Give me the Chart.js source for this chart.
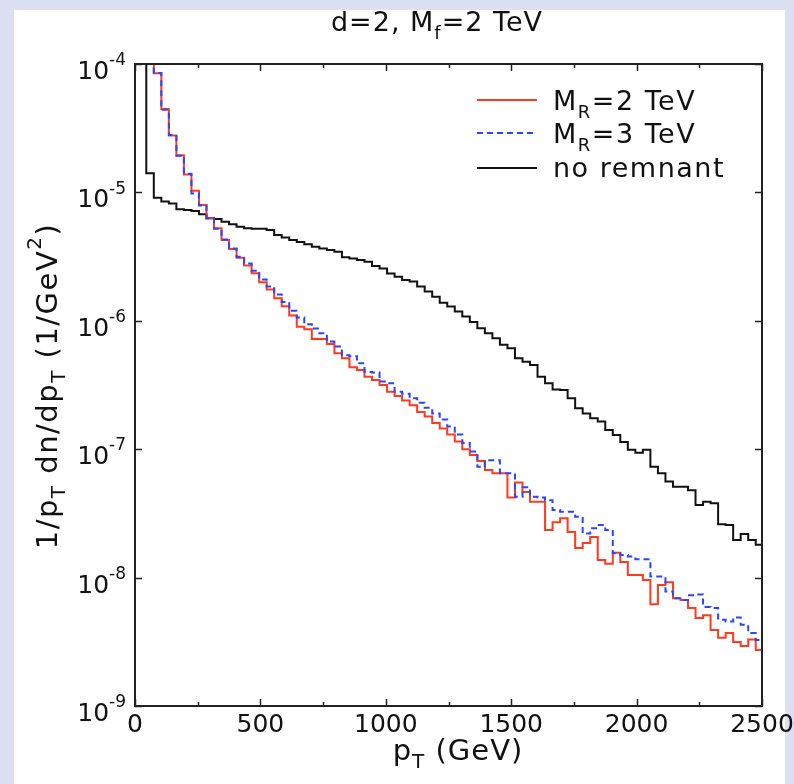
<!DOCTYPE html>
<html>
<head>
<meta charset="utf-8">
<script src="https://cdn.jsdelivr.net/npm/chart.js@4.4.1/dist/chart.umd.min.js"></script>
<style>
  html, body { margin: 0; padding: 0; background: #dde0f3; }
  canvas { display: block; }
</style>
</head>
<body>
<canvas id="grafico" width="794" height="784"></canvas>
<script>
// bordas dos bins (GeV) - 30 GeV por bin
const bordasBins = [
  15, 45, 75, 105, 135, 165, 195, 225, 255, 285, 315, 345, 375, 405, 435, 465,
  495, 525, 555, 585, 615, 645, 675, 705, 735, 765, 795, 825, 855, 885, 915, 945,
  975, 1005, 1035, 1065, 1095, 1125, 1155, 1185, 1215, 1245, 1275, 1305, 1335,
  1365, 1395, 1425, 1455, 1485, 1515, 1545, 1575, 1605, 1635, 1665, 1695, 1725,
  1755, 1785, 1815, 1845, 1875, 1905, 1935, 1965, 1995, 2025, 2055, 2085, 2115,
  2145, 2175, 2205, 2235, 2265, 2295, 2325, 2355, 2385, 2415, 2445, 2475, 2505
];

// M_R = 2 TeV (vermelho)
const valoresMR2 = [
  3e-4, 2e-4, 8.46e-5, 4.46e-5, 2.77e-5, 1.95e-5, 1.38e-5, 1.03e-5, 7.97e-6, 6.28e-6,
  5.25e-6, 4.26e-6, 3.62e-6, 3.1e-6, 2.7e-6, 2.35e-6, 2.0e-6, 1.75e-6, 1.5e-6, 1.3e-6,
  1.1e-6, 9.0e-7, 8.6e-7, 7.2e-7, 7.2e-7, 6.6e-7, 5.6e-7, 5.1e-7, 4.35e-7, 4.14e-7,
  3.67e-7, 3.46e-7, 3.16e-7, 2.8e-7, 2.6e-7, 2.4e-7, 2.2e-7, 1.95e-7, 1.8e-7, 1.6e-7,
  1.45e-7, 1.3e-7, 1.15e-7, 1.0e-7, 9.0e-8, 8.1e-8, 6.9e-8, 6.5e-8, 6.5e-8, 4.2e-8,
  5.5e-8, 4.65e-8, 3.9e-8, 3.9e-8, 2.35e-8, 2.7e-8, 2.9e-8, 2.27e-8, 1.7e-8, 1.86e-8,
  2.07e-8, 1.37e-8, 1.28e-8, 1.56e-8, 1.32e-8, 1.05e-8, 1.05e-8, 9.6e-9, 6.2e-9, 8.75e-9,
  9.2e-9, 6.9e-9, 6.7e-9, 5.8e-9, 4.85e-9, 5.1e-9, 3.9e-9, 3.4e-9, 3.7e-9, 3.15e-9,
  2.93e-9, 3.3e-9, 2.73e-9
];

// M_R = 3 TeV (azul tracejado)
const valoresMR3 = [
  3e-4, 2e-4, 8.5e-5, 4.4e-5, 2.8e-5, 1.93e-5, 1.4e-5, 9.8e-6, 7.9e-6, 6.3e-6,
  5.2e-6, 4.3e-6, 3.65e-6, 3.15e-6, 2.8e-6, 2.45e-6, 2.1e-6, 1.85e-6, 1.6e-6, 1.4e-6,
  1.2e-6, 1.06e-6, 9.4e-7, 8.7e-7, 8.0e-7, 6.9e-7, 6.3e-7, 5.4e-7, 5.3e-7, 4.67e-7,
  4.0e-7, 3.95e-7, 3.36e-7, 3.26e-7, 2.8e-7, 2.7e-7, 2.49e-7, 2.3e-7, 2.1e-7, 1.9e-7,
  1.7e-7, 1.5e-7, 1.3e-7, 1.12e-7, 9.6e-8, 7.3e-8, 8.2e-8, 8.2e-8, 6.5e-8, 6.5e-8,
  4.26e-8, 5.05e-8, 4.26e-8, 4.2e-8, 4.0e-8, 3.36e-8, 3.26e-8, 3.26e-8, 2.98e-8, 2.21e-8,
  2.42e-8, 2.57e-8, 2.35e-8, 1.55e-8, 1.5e-8, 1.46e-8, 1.39e-8, 1.39e-8, 1.02e-8, 1.02e-8,
  7.8e-9, 6.9e-9, 6.7e-9, 7.3e-9, 7.4e-9, 5.9e-9, 5.8e-9, 4.7e-9, 4.55e-9, 4.9e-9,
  4.3e-9, 3.7e-9, 3.27e-9
];

// sem remanescente (preto)
const valoresSemRemanescente = [
  3e-4, 1.41e-5, 9.1e-6, 8.5e-6, 8.2e-6, 7.4e-6, 7.3e-6, 7.15e-6, 6.75e-6, 6.3e-6,
  6.2e-6, 5.9e-6, 5.65e-6, 5.4e-6, 5.25e-6, 5.2e-6, 5.2e-6, 5.1e-6, 4.65e-6, 4.45e-6,
  4.25e-6, 4.1e-6, 3.95e-6, 3.78e-6, 3.66e-6, 3.56e-6, 3.45e-6, 3.12e-6, 3.06e-6, 2.97e-6,
  2.88e-6, 2.67e-6, 2.56e-6, 2.34e-6, 2.2e-6, 2.08e-6, 2.02e-6, 1.85e-6, 1.69e-6, 1.54e-6,
  1.38e-6, 1.29e-6, 1.18e-6, 1.08e-6, 9.8e-7, 8.75e-7, 8.0e-7, 7.3e-7, 6.5e-7, 6.1e-7,
  5.1e-7, 4.8e-7, 4.53e-7, 3.67e-7, 3.26e-7, 2.92e-7, 2.89e-7, 2.49e-7, 2.08e-7, 1.9e-7,
  1.74e-7, 1.64e-7, 1.41e-7, 1.29e-7, 1.14e-7, 9.9e-8, 9.4e-8, 9.9e-8, 7.3e-8, 6.5e-8,
  5.6e-8, 5.1e-8, 5.1e-8, 4.8e-8, 3.67e-8, 3.9e-8, 3.8e-8, 2.6e-8, 2.57e-8, 1.96e-8,
  2.19e-8, 1.96e-8, 1.8e-8
];

// eixos
const xTicksMaiores = [0, 500, 1000, 1500, 2000, 2500];
const xTicksMenores = [250, 750, 1250, 1750, 2250];
const yExpoentes = [-4, -5, -6, -7, -8, -9];

// textos da legenda (partes: texto, tipo)
const legendaMR2 = [["M", ""], ["R", "sub"], ["=2 TeV", ""]];
const legendaMR3 = [["M", ""], ["R", "sub"], ["=3 TeV", ""]];
const legendaSemRemanescente = [["no remnant", ""]];

const FAMILIA = '"DejaVu Sans", "Liberation Sans", sans-serif';

function montarPontos(valores) {
  const pontos = valores.map((v, i) => ({ x: bordasBins[i], y: v }));
  pontos.push({ x: bordasBins[valores.length], y: valores[valores.length - 1] });
  return pontos;
}

function textoRico(ctx, partes, x, y, alinhamento, tamanho, espaco) {
  ctx.letterSpacing = (espaco || 0) + "px";
  const larguras = partes.map(([t, tipo]) => {
    ctx.font = (tipo ? Math.round(tamanho * 0.68) : tamanho) + "px " + FAMILIA;
    return ctx.measureText(t).width;
  });
  const total = larguras.reduce((a, b) => a + b, 0);
  let cx = x;
  if (alinhamento === "center") cx = x - total / 2;
  if (alinhamento === "right") cx = x - total;
  ctx.textAlign = "left";
  ctx.textBaseline = "alphabetic";
  partes.forEach(([t, tipo], i) => {
    ctx.font = (tipo ? Math.round(tamanho * 0.68) : tamanho) + "px " + FAMILIA;
    let dy = 0;
    if (tipo === "sub") dy = tamanho * 0.28;
    if (tipo === "sup") dy = -tamanho * 0.55;
    ctx.fillText(t, cx, y + dy);
    cx += larguras[i];
  });
  ctx.letterSpacing = "0px";
}

const fundo = {
  id: "fundo",
  beforeDraw(chart) {
    const ctx = chart.ctx;
    ctx.save();
    ctx.fillStyle = "#dde0f3";
    ctx.fillRect(0, 0, chart.width, chart.height);
    ctx.fillStyle = "#ffffff";
    ctx.fillRect(14, 10, 771, chart.height - 10);
    ctx.restore();
  },
};

const moldura = {
  id: "moldura",
  afterDraw(chart) {
    const ctx = chart.ctx;
    const area = chart.chartArea;
    const x = chart.scales.x;
    const y = chart.scales.y;

    ctx.save();
    ctx.strokeStyle = "#222";
    ctx.fillStyle = "#222";
    ctx.lineWidth = 2;
    ctx.strokeRect(area.left, area.top, area.right - area.left, area.bottom - area.top);

    ctx.lineWidth = 1.5;
    ctx.beginPath();
    // ticks x (dentro, em baixo e em cima)
    xTicksMaiores.forEach((v) => {
      const px = Math.round(x.getPixelForValue(v)) + 0.5;
      ctx.moveTo(px, area.bottom); ctx.lineTo(px, area.bottom - 7);
      ctx.moveTo(px, area.top); ctx.lineTo(px, area.top + 7);
    });
    xTicksMenores.forEach((v) => {
      const px = Math.round(x.getPixelForValue(v)) + 0.5;
      ctx.moveTo(px, area.bottom); ctx.lineTo(px, area.bottom - 4);
      ctx.moveTo(px, area.top); ctx.lineTo(px, area.top + 4);
    });
    // ticks y (log)
    yExpoentes.forEach((e) => {
      const py = Math.round(y.getPixelForValue(Math.pow(10, e))) + 0.5;
      ctx.moveTo(area.left, py); ctx.lineTo(area.left + 7, py);
      ctx.moveTo(area.right, py); ctx.lineTo(area.right - 7, py);
      if (e > -4) {
        for (let m = 2; m <= 9; m++) {
          const pm = Math.round(y.getPixelForValue(m * Math.pow(10, e))) + 0.5;
          ctx.moveTo(area.left, pm); ctx.lineTo(area.left + 4, pm);
          ctx.moveTo(area.right, pm); ctx.lineTo(area.right - 4, pm);
        }
      }
    });
    ctx.stroke();

    ctx.fillStyle = "#111";
    // rótulos x
    ctx.font = "25px " + FAMILIA;
    ctx.textAlign = "center";
    ctx.textBaseline = "alphabetic";
    xTicksMaiores.forEach((v) => {
      ctx.fillText(String(v), x.getPixelForValue(v), area.bottom + 26);
    });
    // rótulos y
    yExpoentes.forEach((e) => {
      const py = y.getPixelForValue(Math.pow(10, e));
      textoRico(ctx, [["10", ""], ["-" + Math.abs(e), "sup"]], 126, py + 15, "right", 25, 0);
    });

    // título
    textoRico(ctx, [["d=2, M", ""], ["f", "sub"], ["=2 TeV", ""]], 437, 31, "center", 27, 1);

    // título eixo x
    textoRico(ctx, [["p", ""], ["T", "sub"], [" (GeV)", ""]], 458, 760, "center", 29, 1);

    // título eixo y
    ctx.save();
    ctx.translate(57, 386);
    ctx.rotate(-Math.PI / 2);
    textoRico(ctx, [["1/p", ""], ["T", "sub"], [" dn/dp", ""], ["T", "sub"], [" (1/GeV", ""], ["2", "sup"], [")", ""]], 0, 0, "center", 29, 1.5);
    ctx.restore();

    // legenda
    const itens = [
      { partes: legendaMR2, ds: chart.data.datasets[0], yLinha: 100, yTexto: 110 },
      { partes: legendaMR3, ds: chart.data.datasets[1], yLinha: 133, yTexto: 143 },
      { partes: legendaSemRemanescente, ds: chart.data.datasets[2], yLinha: 168, yTexto: 177 },
    ];
    itens.forEach((item) => {
      ctx.strokeStyle = item.ds.borderColor;
      ctx.lineWidth = item.ds.borderWidth;
      ctx.setLineDash(item.ds.borderDash || []);
      ctx.beginPath();
      ctx.moveTo(477, item.yLinha);
      ctx.lineTo(537, item.yLinha);
      ctx.stroke();
      ctx.setLineDash([]);
      ctx.fillStyle = "#111";
      textoRico(ctx, item.partes, 553, item.yTexto, "left", 27, 1.5);
    });
    ctx.restore();
  },
};

const ctx = document.getElementById("grafico");

new Chart(ctx, {
  type: "line",
  data: {
    datasets: [
      {
        label: "M_R=2 TeV",
        data: montarPontos(valoresMR2),
        borderColor: "#ff3a1e",
        borderWidth: 2,
        stepped: "before",
        pointRadius: 0,
        order: 1,
        clip: 1,
      },
      {
        label: "M_R=3 TeV",
        data: montarPontos(valoresMR3),
        borderColor: "#2846ff",
        borderWidth: 2,
        borderDash: [6, 4],
        stepped: "before",
        pointRadius: 0,
        order: 0,
        clip: 1,
      },
      {
        label: "no remnant",
        data: montarPontos(valoresSemRemanescente),
        borderColor: "#111111",
        borderWidth: 2,
        stepped: "before",
        pointRadius: 0,
        order: 2,
        clip: 1,
      },
    ],
  },
  options: {
    responsive: false,
    animation: false,
    devicePixelRatio: 1,
    layout: { padding: { left: 135, right: 32, top: 64, bottom: 78 } },
    plugins: {
      legend: { display: false },
      tooltip: { enabled: false },
    },
    scales: {
      x: { type: "linear", min: 0, max: 2500, display: false },
      y: { type: "logarithmic", min: 1e-9, max: 1e-4, display: false },
    },
  },
  plugins: [fundo, moldura],
});
</script>
</body>
</html>
